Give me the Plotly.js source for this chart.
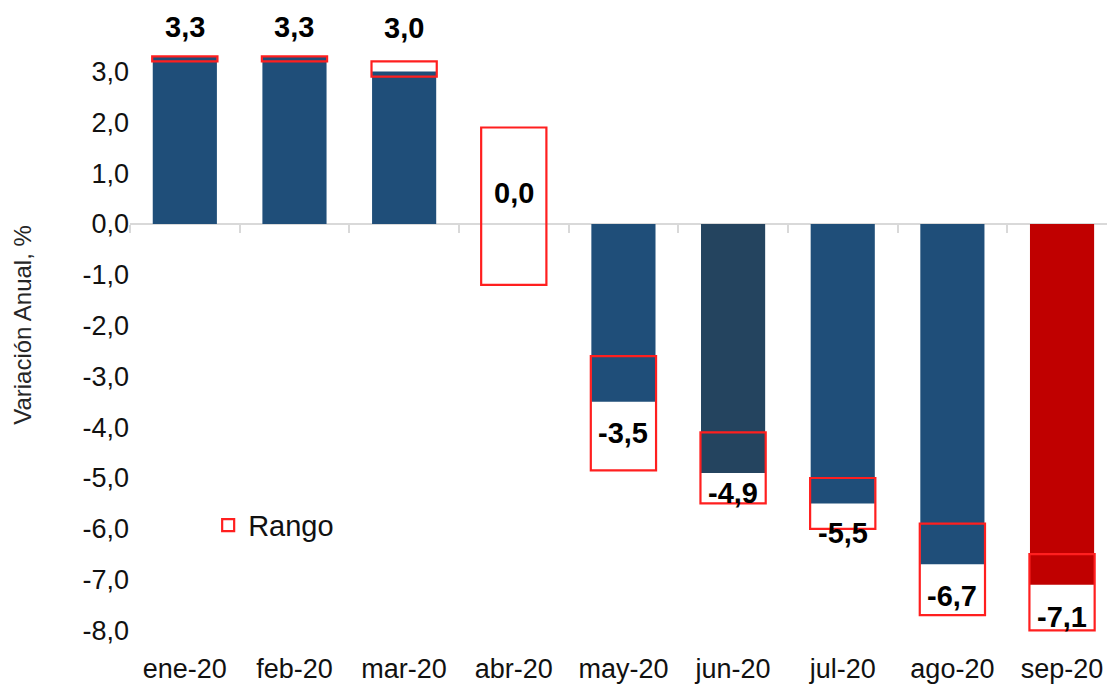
<!DOCTYPE html>
<html>
<head>
<meta charset="utf-8">
<script src="https://cdn.plot.ly/plotly-3.0.1.min.js"></script>
<style>
  html, body { margin: 0; padding: 0; background: #ffffff; }
  #chart { width: 1107px; height: 684px; }
</style>
</head>
<body>
<div id="chart"></div>
<script>
// ---- data ----
const months = ["ene-20", "feb-20", "mar-20", "abr-20", "may-20", "jun-20", "jul-20", "ago-20", "sep-20"];
const values = [3.3, 3.3, 3.0, 0.0, -3.5, -4.9, -5.5, -6.7, -7.1];
const rangeLow  = [3.2, 3.2, 2.9, -1.2, -4.85, -5.5, -6.0, -7.7, -8.0];
const rangeHigh = [3.3, 3.3, 3.2, 1.9, -2.6, -4.1, -5.0, -5.9, -6.5];
const yTicks = [3, 2, 1, 0, -1, -2, -3, -4, -5, -6, -7, -8];

// ---- styles ----
const barColors = ["#1F4E79", "#1F4E79", "#1F4E79", "#1F4E79", "#1F4E79", "#24445F", "#1F4E79", "#1F4E79", "#C00000"];
const labelShift = [29, 29, 44, 31, -31, -20, -30, -32, -32];
const FONT = "Arial, 'Liberation Sans', sans-serif";

const fmt = v => v.toFixed(1).replace(".", ",");

const yMin = -8.386, yMax = 4.41;
const zeroPos = (0 - yMin) / (yMax - yMin);

const bars = {
  type: "bar",
  x: months,
  y: values,
  width: 0.585,
  marker: { color: barColors, line: { width: 0 } },
  showlegend: false,
  hoverinfo: "x+y",
  xaxis: "x", yaxis: "y"
};

const ranges = {
  type: "bar",
  name: "Rango",
  x: months,
  base: rangeLow,
  y: rangeHigh.map((h, i) => h - rangeLow[i]),
  width: 0.595,
  marker: { color: "rgba(0,0,0,0)", line: { color: "#FF1F1F", width: 2.2 } },
  showlegend: true,
  xaxis: "x", yaxis: "y"
};

// helper trace that carries the category boundaries on the zero-line axis
const tickHolder = {
  type: "scatter",
  mode: "markers",
  x: months,
  y: months.map(() => null),
  showlegend: false,
  hoverinfo: "skip",
  xaxis: "x2", yaxis: "y"
};

const annotations = months.map((m, i) => ({
  x: m, y: values[i], xref: "x", yref: "y",
  text: "<b>" + fmt(values[i]) + "</b>",
  showarrow: false,
  yshift: labelShift[i],
  font: { family: FONT, size: 29, color: "#000000" }
}));

const layout = {
  width: 1107, height: 684,
  margin: { l: 130, r: 0, t: 0, b: 34 },
  paper_bgcolor: "#ffffff", plot_bgcolor: "#ffffff",
  separators: ",.",
  barmode: "overlay",
  font: { family: FONT, color: "#111111" },
  xaxis: {
    type: "category",
    categoryarray: months,
    range: [-0.5, 8.41],
    showline: false, showgrid: false, zeroline: false,
    ticks: "",
    tickfont: { family: FONT, size: 27, color: "#111111" },
    fixedrange: true
  },
  xaxis2: {
    type: "category",
    categoryarray: months,
    overlaying: "x",
    anchor: "free",
    position: zeroPos,
    range: [-0.5, 8.41],
    showline: false, showgrid: false, zeroline: false,
    ticks: "outside", ticklen: 8, tickwidth: 2, tickcolor: "#D9D9D9",
    tickson: "boundaries",
    showticklabels: false,
    fixedrange: true
  },
  yaxis: {
    range: [yMin, yMax],
    tickvals: yTicks,
    ticktext: yTicks.map(fmt),
    showline: false, showgrid: false,
    zeroline: true, zerolinecolor: "#D9D9D9", zerolinewidth: 2,
    ticks: "",
    tickfont: { family: FONT, size: 27, color: "#111111" },
    title: { text: "Variación Anual, %", font: { family: FONT, size: 24, color: "#262626" }, standoff: 44 },
    fixedrange: true
  },
  legend: {
    x: 0.08, y: 0.192, xanchor: "left", yanchor: "middle",
    bgcolor: "rgba(0,0,0,0)",
    font: { family: FONT, size: 29, color: "#111111" }
  },
  annotations: annotations,
  showlegend: true
};

Plotly.newPlot("chart", [bars, ranges, tickHolder], layout, { displayModeBar: false, staticPlot: true });
</script>
</body>
</html>
